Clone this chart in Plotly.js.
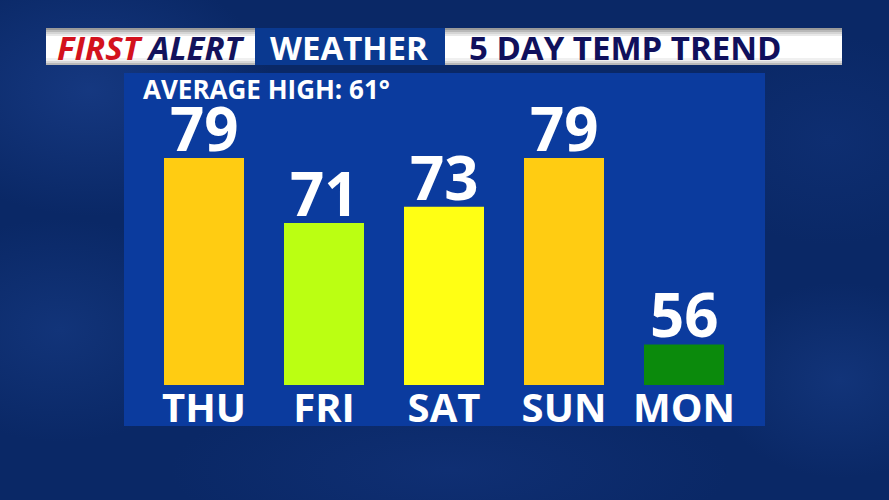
<!DOCTYPE html>
<html>
<head>
<meta charset="utf-8">
<script src="https://cdn.plot.ly/plotly-3.0.1.min.js"></script>
<style>
  html, body { margin: 0; padding: 0; }
  body {
    width: 889px; height: 500px; overflow: hidden;
    background:
      radial-gradient(ellipse 260px 180px at 90px 90px, rgba(35,75,160,0.45), rgba(35,75,160,0) 70%),
      radial-gradient(ellipse 220px 160px at 60px 330px, rgba(30,70,150,0.4), rgba(30,70,150,0) 70%),
      radial-gradient(ellipse 200px 150px at 830px 140px, rgba(20,55,130,0.4), rgba(20,55,130,0) 70%),
      radial-gradient(ellipse 180px 140px at 840px 380px, rgba(30,70,150,0.4), rgba(30,70,150,0) 70%),
      radial-gradient(ellipse 400px 120px at 450px 470px, rgba(25,60,140,0.35), rgba(25,60,140,0) 70%),
      #0a2866;
  }
  #chart { width: 889px; height: 500px; }
</style>
</head>
<body>
<div id="chart"></div>
<script>
// ---- data ----
const days = ["THU", "FRI", "SAT", "SUN", "MON"];
const highs = [79, 71, 73, 79, 56];
const barColors = ["#ffcc12", "#bbff12", "#ffff14", "#ffcc12", "#0b8a0c"];
const averageHigh = 61;
const headerLeft = ["FIRST", "ALERT"];
const headerMid = "WEATHER";
const headerRight = "5 DAY TEMP TREND";

// ---- layout geometry (pixels -> paper) ----
const ML = 144, MR = 145, MT = 73, MB = 115, W = 889, H = 500;
const PW = W - ML - MR, PH = H - MT - MB;
const px = x => (x - ML) / PW;
const py = y => (H - MB - y) / PH;

const FONT = "Open Sans, Noto Sans, DejaVu Sans, sans-serif";

const shapes = [];
// blue panel
shapes.push({type: "rect", xref: "paper", yref: "paper", layer: "below",
  x0: px(124), x1: px(765), y0: py(426), y1: py(73),
  fillcolor: "#0b3b9e", line: {width: 0}});

// header boxes with gray->white->gray gradient stripes
function gradBox(x0, x1) {
  const stripes = [
    [28, 30, "#9a9a9a"], [30, 32, "#b8b8b8"], [32, 34, "#d4d4d4"], [34, 36, "#e8e8e8"],
    [36, 58, "#ffffff"], [58, 61, "#f0f0f0"], [61, 63, "#d8d8d8"], [63, 65, "#b8b8b8"]
  ];
  stripes.forEach(s => shapes.push({type: "rect", xref: "paper", yref: "paper", layer: "above",
    x0: px(x0), x1: px(x1), y0: py(s[1]), y1: py(s[0]), fillcolor: s[2], line: {width: 0}}));
}
gradBox(46, 255);
shapes.push({type: "rect", xref: "paper", yref: "paper", layer: "above",
  x0: px(255), x1: px(445), y0: py(65), y1: py(28), fillcolor: "#0a3990", line: {width: 0}});
gradBox(445, 842);

const annotations = [
  {xref: "paper", yref: "paper", x: px(151), y: py(47), xanchor: "center", yanchor: "middle",
   showarrow: false,
   text: '<span style="color:#d3121d">' + headerLeft[0] + '</span> <span style="color:#13135c">' + headerLeft[1] + '</span>',
   font: {family: FONT, size: 33, weight: 700, style: "italic"}},
  {xref: "paper", yref: "paper", x: px(349), y: py(47), xanchor: "center", yanchor: "middle",
   showarrow: false, text: headerMid,
   font: {family: FONT, size: 33, weight: 700, color: "#ffffff"}},
  {xref: "paper", yref: "paper", x: px(467), y: py(47), xanchor: "left", yanchor: "middle",
   showarrow: false, text: headerRight,
   font: {family: FONT, size: 33, weight: 700, color: "#10105c"}},
  {xref: "paper", yref: "paper", x: px(141), y: py(89), xanchor: "left", yanchor: "middle",
   showarrow: false, text: "AVERAGE HIGH: " + averageHigh + "°",
   font: {family: FONT, size: 26, weight: 700, color: "#ffffff"}}
];

// value labels above each bar
days.forEach((d, i) => annotations.push({
  xref: "x", yref: "y", x: d, y: highs[i], xanchor: "center", yanchor: "bottom",
  yshift: -13, showarrow: false, text: String(highs[i]),
  font: {family: FONT, size: 60, weight: 700, color: "#ffffff"}
}));

const trace = {
  type: "bar", x: days, y: highs,
  marker: {color: barColors, line: {width: 0}},
  hoverinfo: "none"
};

const layout = {
  width: W, height: H,
  margin: {l: ML, r: MR, t: MT, b: MB, pad: 0},
  paper_bgcolor: "rgba(0,0,0,0)", plot_bgcolor: "rgba(0,0,0,0)",
  showlegend: false, bargap: 1/3,
  xaxis: {type: "category", range: [-0.5, 4.5], fixedrange: true,
    anchor: "free", position: 4 / PH,
    showgrid: false, zeroline: false, showline: false, ticks: "",
    tickfont: {family: FONT, size: 40, weight: 700, color: "#ffffff"},
    ticklabelstandoff: 0},
  yaxis: {range: [51, 89.5], visible: false, fixedrange: true, domain: [0, 1]},
  shapes: shapes, annotations: annotations
};

Plotly.newPlot("chart", [trace], layout, {displayModeBar: false, staticPlot: true});
</script>
</body>
</html>
